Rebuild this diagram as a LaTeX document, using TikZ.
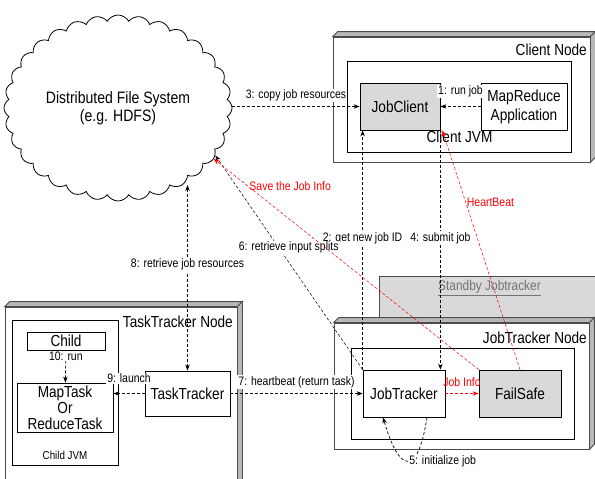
\documentclass[tikz,border=0pt]{standalone}
\usepackage{fontspec}
\setmainfont{Liberation Sans}[FakeStretch=0.85]
\usetikzlibrary{shapes.symbols,arrows.meta}

% raised side faces of a host box
\newcommand{\slab}[1]{%
  \draw[sideface] (#1.north west) -- ++(5,-5) -- ([shift={(5,-5)}]#1.north east) -- (#1.north east) -- cycle;
  \draw[sideface] (#1.north east) -- ++(5,-5) -- ([shift={(5,-5)}]#1.south east) -- (#1.south east) -- cycle;}

\begin{document}
\begin{tikzpicture}[x=1pt,y=-1pt,
  hostbox/.style={draw=black!70,fill=white,line width=0.8pt,inner sep=0pt},
  sideface/.style={draw=black!70,fill=black!28,line width=0.8pt},
  jvmbox/.style={draw,fill=white,line width=0.8pt,inner sep=0pt},
  unit/.style={draw,fill=white,line width=0.8pt,align=center,inner sep=1pt,font=\fontsize{16}{19}\selectfont},
  big/.style={inner sep=1pt,font=\fontsize{16}{19}\selectfont},
  steplabel/.style={fill=white,inner sep=1pt,font=\fontsize{12.3}{14}\selectfont},
  redlabel/.style={text=red,inner sep=1pt,font=\fontsize{12.3}{14}\selectfont},
  flow/.style={line width=0.7pt,dash pattern=on 3pt off 2pt,-{Stealth[length=6pt,width=4.5pt]}},
  redflow/.style={flow,draw=red,line width=0.5pt}]
\useasboundingbox (0,0) rectangle (595,479);

% shared file system
\node[cloud,cloud puffs=32,cloud puff arc=120,cloud ignores aspect,draw,line width=0.8pt,
      minimum width=228pt,minimum height=186pt,align=center,font=\fontsize{16.5}{18}\selectfont] (dfs) at (118,108)
      {Distributed File System\\(e.g. HDFS)};

% client side
\node[hostbox,minimum width=257pt,minimum height=125pt] (clientnode) at (461.5,99.5) {};
\slab{clientnode}
\node[big,anchor=east] (clientnodelabel) at (588,50) {Client Node};
\node[jvmbox,minimum width=224pt,minimum height=91pt] (clientjvm) at (459,106.5) {};
\node[big] (clientjvmlabel) at (459.5,137) {Client JVM};
\node[unit,fill=black!15,minimum width=80pt,minimum height=47pt] (jobclient) at (400,106.5) {JobClient};
\node[unit,minimum width=86pt,minimum height=47pt] (mrapp) at (524,106.5) {MapReduce\\Application};

% tasktracker side
\node[hostbox,minimum width=232pt,minimum height=183pt] (ttnode) at (121,398.5) {};
\slab{ttnode}
\node[big,anchor=east] (ttnodelabel) at (234,322) {TaskTracker Node};
\node[jvmbox,minimum width=106pt,minimum height=145pt] (childjvm) at (65,392.5) {};
\node[font=\fontsize{11.5}{13}\selectfont] (childjvmlabel) at (65,455) {Child JVM};
\node[unit,inner sep=0pt,minimum width=78pt,minimum height=18pt] (child) at (66,341) {Child};
\node[unit,inner sep=0pt,minimum width=96pt,minimum height=49pt,font=\fontsize{16}{16}\selectfont] (maptask) at (65,407.5) {MapTask\\Or\\ReduceTask};
\node[unit,minimum width=85pt,minimum height=45pt] (tasktracker) at (187.5,393.5) {TaskTracker};

% jobtracker side
\node[draw=black!70,fill=black!15,line width=0.8pt,minimum width=221pt,minimum height=54pt,inner sep=0pt] (standby) at (489.5,303) {};
\node[text=black!55,font=\fontsize{14}{16}\selectfont] (standbylabel) at (489.5,288) {\underline{Standby Jobtracker}};
\node[hostbox,minimum width=255pt,minimum height=126pt] (jtnode) at (461.5,386) {};
\slab{jtnode}
\node[big,anchor=east] (jtnodelabel) at (588,338) {JobTracker Node};
\node[jvmbox,minimum width=223pt,minimum height=91pt] (jtjvm) at (462.5,393.5) {};
\node[unit,minimum width=82pt,minimum height=47pt] (jobtracker) at (404,393.5) {JobTracker};
\node[unit,fill=black!15,minimum width=82pt,minimum height=47pt] (failsafe) at (520,393.5) {FailSafe};

% job steps
\draw[flow] (mrapp) -- (jobclient) node[steplabel,midway,yshift=15pt] {1: run job};
\draw[flow] (jobclient.west -| dfs.east) -- (jobclient.west) node[steplabel,midway,yshift=11pt] {3: copy job resources};
\draw[flow] (jobtracker.north west) -- (jobtracker.north west |- jobclient.south) node[steplabel,pos=0.55] {2: get new job ID};
\draw[flow] (jobclient.south east) -- (jobclient.south east |- jobtracker.north) node[steplabel,pos=0.45] {4: submit job};
\draw[flow] ([xshift=23pt]jobtracker.south) .. controls +(-9,58) and +(17,58) .. ([xshift=-21pt]jobtracker.south)
  node[steplabel,pos=0.5,anchor=west] {5: initialize job};
\draw[flow,line width=0.5pt] (jobtracker.north west) -- (dfs.-26) node[steplabel,pos=0.57,xshift=10pt] {6: retrieve input splits};
\draw[flow] (tasktracker.east) -- (jobtracker.west) node[steplabel,midway,yshift=11.5pt] {7: heartbeat (return task)};
\draw[flow,{Stealth[length=6pt,width=4.5pt]}-{Stealth[length=6pt,width=4.5pt]}] (tasktracker.north |- dfs.-50) -- (tasktracker.north)
  node[steplabel,pos=0.43] {8: retrieve job resources};
\draw[flow] (tasktracker.west) -- (tasktracker.west -| maptask.east) node[steplabel,midway,yshift=15pt] {9: launch};
\draw[flow] (child) -- (maptask) node[steplabel,pos=0,anchor=north] {10: run};

% failover path
\draw[redflow,line width=0.8pt] (jobtracker) -- (failsafe) node[redlabel,midway,yshift=11pt] {Job Info};
\draw[redflow] (failsafe.north west) -- (dfs.-28) node[redlabel,pos=0.87,anchor=west] {Save the Job Info};
\draw[redflow] (failsafe.north) -- ([xshift=2pt]jobclient.south east) node[redlabel,pos=0.7,anchor=west] {HeartBeat};
\end{tikzpicture}
\end{document}
